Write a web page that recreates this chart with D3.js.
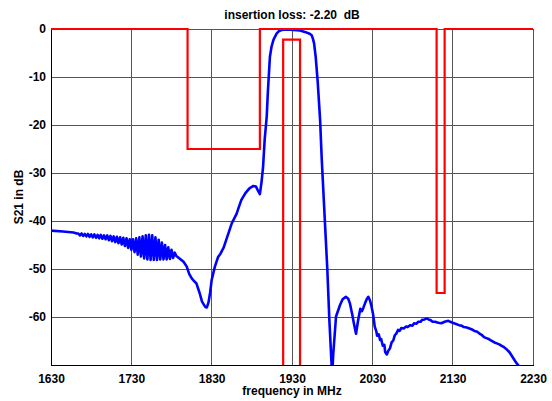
<!DOCTYPE html>
<html>
<head>
<meta charset="utf-8">
<script src="https://cdn.jsdelivr.net/npm/d3@7"></script>
<style>
  body { margin: 0; background: #fff; }
  text { font-family: "Liberation Sans", Arial, sans-serif; font-weight: bold; }
</style>
</head>
<body>
<div id="chart"></div>
<script>
// axis ticks
const xTicks = [1630, 1730, 1830, 1930, 2030, 2130, 2230];
const yTicks = [0, -10, -20, -30, -40, -50, -60];

// spec mask (red), frequency in MHz / level in dB
const maskFreq = [1630, 1800, 1800, 1890, 1890, 2110, 2110, 2120, 2120, 2230];
const maskDb   = [0, 0, -25, -25, 0, 0, -55, -55, 0, 0];

// passband limit box
const passFreq = [1919, 1919, 1940, 1940];
const passDb   = [-70, -2.2, -2.2, -70];

// measured S21 (blue), [MHz, dB]
const s21 = [
  [1630, -42.0], [1645, -42.2], [1658, -42.4], [1662, -42.6],
  [1664, -42.6], [1666, -43.0], [1668, -42.6], [1670, -43.1], [1672, -42.7], [1674, -43.2],
  [1676, -42.7], [1678, -43.3], [1680, -42.8], [1682, -43.4], [1684, -42.8], [1686, -43.5],
  [1688, -42.9], [1690, -43.6], [1692, -42.9], [1694, -43.7], [1696, -43.0], [1698, -43.8],
  [1700, -43.0], [1702, -44.0], [1704, -43.1], [1706, -44.2], [1708, -43.2], [1710, -44.4],
  [1712, -43.3], [1714, -44.6], [1716, -43.4], [1718, -44.9], [1720, -43.5], [1722, -45.2],
  [1724, -43.6], [1726, -45.6], [1728, -43.8], [1730, -46.0], [1732, -43.8], [1734, -46.5],
  [1736, -43.6], [1738, -47.0], [1740, -43.4], [1742, -47.4], [1744, -43.2], [1746, -47.8],
  [1748, -43.0], [1750, -48.0], [1752, -42.9], [1754, -48.1], [1756, -43.0], [1758, -48.1],
  [1760, -43.4], [1762, -48.1], [1764, -43.9], [1766, -48.0], [1768, -44.5], [1770, -48.0],
  [1772, -45.0], [1774, -48.0], [1776, -45.5], [1778, -47.9], [1780, -46.0], [1782, -47.7],
  [1784, -46.6], [1786, -47.3], [1790, -47.8], [1795, -48.5], [1799, -49.5], [1802, -51.0],
  [1805, -51.9], [1808, -52.5], [1811, -53.0], [1815, -55.0], [1818, -56.8], [1822, -57.9],
  [1824, -58.0], [1826, -57.0], [1828, -55.0], [1830, -52.3], [1834, -49.5], [1838, -47.5],
  [1841, -46.8], [1845, -45.5], [1850, -43.0], [1855, -40.5], [1858, -39.5], [1861, -38.5],
  [1864, -37.0], [1867, -35.6], [1872, -34.2], [1877, -33.2], [1882, -32.7], [1885, -32.8],
  [1888, -33.8], [1890, -34.4], [1892, -32.0], [1894, -28.7], [1896, -23.0], [1898.5, -18.3],
  [1900, -13.0], [1902.5, -5.8], [1904.5, -3.7], [1907, -2.2], [1911, -0.9], [1914, -0.4],
  [1917, -0.2], [1925, -0.1], [1932, -0.2], [1940, -0.3], [1946, -0.6], [1952, -1.0],
  [1954.5, -1.3], [1956, -2.0], [1957.5, -3.0], [1959.5, -5.8], [1962, -11.0], [1965, -19.0],
  [1967, -27.0], [1970, -37.0], [1974, -50.2], [1976.5, -60.6], [1979, -69.0], [1980, -72.0],
  [1981.4, -67.6], [1984.8, -59.9], [1989.8, -57.5], [1993, -56.3], [1997, -55.8], [2000, -56.2],
  [2002, -57.1], [2005, -59.5], [2007, -61.3], [2009.7, -63.5], [2012, -61.0], [2015, -58.3],
  [2017, -58.8], [2019, -58.0], [2021, -57.1], [2023, -56.3], [2025, -55.8], [2027, -56.5],
  [2029, -57.8], [2031, -59.5], [2033, -62.0], [2035, -63.0], [2036, -63.9], [2038, -63.6],
  [2039.6, -64.8], [2041, -64.6], [2043, -66.0], [2045, -65.8], [2046, -67.3], [2048, -67.8],
  [2050, -67.0], [2052, -66.5], [2054, -65.3], [2056, -64.9], [2058, -63.8], [2060, -63.4],
  [2062, -62.7], [2064, -62.9], [2066, -62.3], [2069, -62.4], [2072, -62.0], [2074, -62.1],
  [2077, -61.7], [2080, -61.8], [2082, -61.3], [2085, -61.4], [2087, -61.0], [2090, -61.0],
  [2092, -60.6], [2095, -60.5], [2097.7, -60.3], [2100, -60.5], [2102, -60.6], [2105, -61.0],
  [2108, -61.0], [2112, -61.2], [2116, -61.3], [2120, -61.0], [2124.6, -60.8], [2127, -61.0],
  [2130, -61.2], [2135, -61.5], [2138, -61.7], [2141, -61.8], [2144, -62.1], [2147.5, -62.2],
  [2151, -62.4], [2154, -62.6], [2157, -62.9], [2160, -63.0], [2163, -63.4], [2166, -63.7],
  [2169, -64.2], [2172, -64.4], [2175, -64.6], [2178, -64.9], [2182, -65.3], [2185, -65.5],
  [2188, -65.7], [2191, -66.0], [2194, -66.3], [2197, -66.7], [2201, -67.4], [2205.5, -68.6],
  [2209, -69.5], [2213.8, -70.5]
];

const width = 552;
const height = 401;
const margin = { top: 29, right: 19, bottom: 36, left: 51 };

const svg = d3.select("#chart")
  .append("svg")
  .attr("width", width)
  .attr("height", height);

const x = d3.scaleLinear()
  .domain([1630, 2230])
  .range([margin.left, width - margin.right]);

const y = d3.scaleLinear()
  .domain([-70, 0])
  .range([height - margin.bottom, margin.top]);

// clip so the curve is cut at the bottom of the plot box
svg.append("clipPath")
  .attr("id", "plot-clip")
  .append("rect")
  .attr("x", margin.left)
  .attr("y", margin.top - 4)
  .attr("width", x(2230) - x(1630))
  .attr("height", y(-70) - y(0) + 4);

// grid lines
const grid = svg.append("g").attr("shape-rendering", "crispEdges");
grid.selectAll("line.vgrid")
  .data(xTicks)
  .enter()
  .append("line")
  .attr("class", "vgrid")
  .attr("x1", d => x(d)).attr("x2", d => x(d))
  .attr("y1", y(-70)).attr("y2", y(0))
  .attr("stroke", "#555");
grid.selectAll("line.hgrid")
  .data(yTicks)
  .enter()
  .append("line")
  .attr("class", "hgrid")
  .attr("x1", x(1630)).attr("x2", x(2230))
  .attr("y1", d => y(d)).attr("y2", d => y(d))
  .attr("stroke", "#555");

// axes
svg.append("g")
  .attr("transform", `translate(0, ${y(-70)})`)
  .call(d3.axisBottom(x).tickValues(xTicks).tickSize(0).tickPadding(9).tickFormat(d => String(d)))
  .call(g => g.select(".domain").attr("stroke", "#000").attr("shape-rendering", "crispEdges"))
  .selectAll("text")
  .attr("font-size", "12px")
  .attr("font-weight", "bold")
  .attr("font-family", "Liberation Sans, Arial, sans-serif")
  .attr("fill", "#000");

svg.append("g")
  .attr("transform", `translate(${x(1630)}, 0)`)
  .call(d3.axisLeft(y).tickValues(yTicks).tickSize(0).tickPadding(5).tickFormat(d => String(d)))
  .call(g => g.select(".domain").attr("stroke", "#000").attr("shape-rendering", "crispEdges"))
  .selectAll("text")
  .attr("font-size", "12px")
  .attr("font-weight", "bold")
  .attr("font-family", "Liberation Sans, Arial, sans-serif")
  .attr("fill", "#000");

// top and right border
svg.append("path")
  .attr("d", `M${x(1630)},${y(0)}H${x(2230)}V${y(-70)}`)
  .attr("fill", "none")
  .attr("stroke", "#555")
  .attr("shape-rendering", "crispEdges");

const plot = svg.append("g").attr("clip-path", "url(#plot-clip)");

const line = d3.line()
  .x(d => x(d[0]))
  .y(d => y(d[1]));

// red mask
svg.append("path")
  .datum(maskFreq.map((f, i) => [f, maskDb[i]]))
  .attr("d", line)
  .attr("fill", "none")
  .attr("stroke", "#ff0000")
  .attr("stroke-width", 2.2);

svg.append("path")
  .datum(passFreq.map((f, i) => [f, passDb[i]]))
  .attr("d", line)
  .attr("fill", "none")
  .attr("stroke", "#ff0000")
  .attr("stroke-width", 2.2);

// blue S21 curve
plot.append("path")
  .datum(s21)
  .attr("d", line)
  .attr("fill", "none")
  .attr("stroke", "#0000ff")
  .attr("stroke-width", 2.6)
  .attr("stroke-linejoin", "round");

// title and labels
svg.append("text")
  .attr("x", (x(1630) + x(2230)) / 2)
  .attr("y", 19)
  .attr("text-anchor", "middle")
  .attr("font-size", "12px")
  .attr("xml:space", "preserve")
  .text("insertion loss: -2.20  dB");

svg.append("text")
  .attr("x", (x(1630) + x(2230)) / 2)
  .attr("y", 395)
  .attr("text-anchor", "middle")
  .attr("font-size", "12px")
  .text("frequency in MHz");

svg.append("text")
  .attr("transform", `translate(23, ${(y(0) + y(-70)) / 2}) rotate(-90)`)
  .attr("text-anchor", "middle")
  .attr("font-size", "12px")
  .text("S21 in dB");
</script>
</body>
</html>
